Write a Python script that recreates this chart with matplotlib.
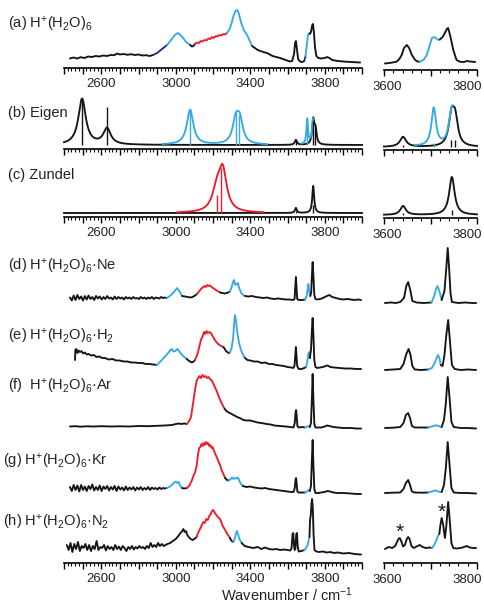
import numpy as np
import matplotlib
matplotlib.use('Agg')
import matplotlib.pyplot as plt
from matplotlib.ticker import FixedLocator, FuncFormatter
from matplotlib.transforms import ScaledTranslation

plt.rcParams['font.family'] = ['Liberation Sans', 'DejaVu Sans']
plt.rcParams['mathtext.fontset'] = 'custom'
plt.rcParams['mathtext.rm'] = 'Liberation Sans'
plt.rcParams['mathtext.it'] = 'Liberation Sans:italic'
plt.rcParams['mathtext.bf'] = 'Liberation Sans:bold'

K, B, R, N = '#151515', '#39a9e6', '#ee1c2b', '#1d2f8c'

# ---------------- panel labels ----------------
labels = ['(a) H$^{+}$(H$_{2}$O)$_{6}$', '(b) Eigen', '(c) Zundel',
          '(d) H$^{+}$(H$_{2}$O)$_{6}$\u00b7Ne', '(e) H$^{+}$(H$_{2}$O)$_{6}$\u00b7H$_{2}$',
          '(f)  H$^{+}$(H$_{2}$O)$_{6}$\u00b7Ar', '(g) H$^{+}$(H$_{2}$O)$_{6}$\u00b7Kr',
          '(h) H$^{+}$(H$_{2}$O)$_{6}$\u00b7N$_{2}$']
left_labels = [2600, 3000, 3400, 3800]
right_labels = [3600, 3800]

# ---------------- (a) experimental, bare cluster ----------------
a_wn = [2432, 2450, 2470, 2490, 2510, 2530, 2550, 2570, 2590, 2610,
        2630, 2650, 2670, 2685, 2700, 2720, 2740, 2760, 2780, 2800,
        2820, 2840, 2860, 2878, 2900, 2920, 2940, 2953, 2975, 2995,
        3012, 3025, 3040, 3055, 3070, 3077, 3087, 3095, 3103, 3115,
        3125, 3135, 3145, 3155, 3165, 3175, 3185, 3195, 3205, 3215,
        3225, 3235, 3245, 3255, 3265, 3275, 3290, 3300, 3310, 3320,
        3329, 3338, 3350, 3365, 3383, 3400, 3410, 3440, 3470, 3490,
        3520, 3560, 3590, 3614, 3625, 3635, 3641, 3645, 3650, 3657,
        3667, 3680, 3690, 3697, 3703, 3710, 3716, 3720, 3726, 3733,
        3737, 3742, 3748, 3755, 3765, 3780, 3800, 3812, 3825, 3840,
        3870, 3900, 3940, 3990]
a_int = [9.5, 10.5, 9.5, 10.8, 10, 11.5, 11, 12, 11.5, 12.5,
         12, 13, 12.8, 14.5, 13.5, 14, 13.2, 13.8, 13, 13.5,
         12.5, 12.8, 12, 13, 15, 18, 21, 23, 28, 33,
         35, 33, 30, 26, 24, 23, 21.5, 22, 24, 25.5,
         25, 27, 26.5, 28, 27.5, 29.5, 29, 31, 30, 32,
         31.5, 33, 32.5, 34, 33.5, 35, 39, 45, 52, 57,
         58, 55, 46, 38, 33, 26, 22, 18, 16, 15,
         12, 10, 8, 6.5, 7, 14, 25, 27, 20, 9,
         6.5, 6, 7, 12, 22, 33, 35, 34, 36, 43,
         44, 35, 20, 12, 10, 9.5, 10, 11, 10, 8,
         7, 6.5, 6, 5.5]
a_seg = [(2432, K), (2878, N), (2953, B), (3077, K), (3103, R), (3275, B),
         (3410, K), (3690, N), (3697, B), (3720, K)]

ar_wn = [3602, 3612, 3627, 3633, 3638, 3643, 3649, 3654, 3660, 3667,
         3672, 3677, 3685, 3692, 3698, 3703, 3708, 3713, 3717, 3720,
         3726, 3731, 3735, 3738, 3743, 3749, 3756, 3763, 3772, 3778,
         3785, 3796]
ar_int = [6.5, 7, 8.3, 11, 15, 22, 25, 22, 15, 10,
          8.5, 8.3, 10, 15, 24, 32, 33, 31.5, 30, 30.5,
          33, 37, 41, 42, 33, 20, 10, 8.3, 8, 9,
          8.5, 8]
ar_seg = [(3602, K), (3677, B), (3720, K)]

# ---------------- (b) Eigen, (c) Zundel: computed sticks ----------------
b_pos = [2497, 2631, 3077, 3322, 3344, 3645, 3706, 3738, 3750]
b_amp = [46, 16, 35, 22, 22, 5, 25, 24, 14]
b_hw = [24, 24, 21, 20, 20, 7, 5, 7, 7]
b_col = [K, K, B, B, B, K, B, K, K]
b_stick = [2497, 2631, 3077, 3325, 3340, 3645, 3706, 3738, 3750]
b_stick_h = [46, 38, 35, 33, 30, 4, 18, 24, 20]

br_pos = [3641, 3707, 3745, 3753]
br_amp = [10, 38, 28, 26]
br_hw = [8, 6, 7, 7]
br_col = [K, B, K, K]
br_stick = [3641, 3707, 3745, 3752]
br_stick_h = [2, 4, 7, 7]

c_pos = [3220, 3252, 3645, 3738]
c_amp = [20, 40, 5, 27]
c_hw = [28, 26, 6, 6]
c_col = [R, R, K, K]
c_stick = [3220, 3245, 3645, 3738]
c_stick_h = [18, 45, 2, 8]

cr_pos = [3641, 3746]
cr_amp = [9, 38]
cr_hw = [7, 7]
cr_col = [K, K]
cr_stick = [3641, 3746]
cr_stick_h = [2, 5]

# ---------------- (d) Ne ----------------
d_wn = [2432, 2442, 2452, 2462, 2472, 2482, 2492, 2502, 2512, 2522,
        2532, 2542, 2552, 2562, 2572, 2582, 2592, 2602, 2612, 2622,
        2632, 2642, 2652, 2662, 2672, 2682, 2692, 2702, 2712, 2722,
        2732, 2742, 2752, 2762, 2772, 2782, 2792, 2802, 2812, 2822,
        2832, 2842, 2852, 2862, 2872, 2882, 2892, 2902, 2912, 2922,
        2932, 2942, 2952,
        2965, 2980, 2995, 3007, 3015, 3025, 3034,
        3050, 3065, 3077, 3090, 3100, 3114,
        3125, 3135, 3145, 3155, 3162, 3170, 3178, 3186, 3195, 3205, 3215, 3228, 3238,
        3250, 3262, 3275, 3291,
        3300, 3308, 3313, 3320, 3328, 3334, 3342, 3352, 3362, 3372,
        3390, 3410, 3430, 3450, 3470, 3490, 3510, 3530, 3550, 3570,
        3590, 3610, 3630, 3638, 3642, 3645, 3648, 3652, 3660, 3680, 3695,
        3703, 3708, 3712, 3716, 3722,
        3727, 3731, 3735, 3739, 3744, 3750, 3760, 3775, 3790, 3800,
        3812, 3825, 3840, 3860, 3880, 3900, 3920, 3940, 3960, 3980, 3995]
d_int = [3.5, 0.5, 5.5, 1, 6, 2, 4.5, 0.5, 5, 1.5,
         5.5, 2, 4, 1, 5, 2.5, 4.5, 1.5, 4, 2,
         5, 2.5, 3.5, 1.5, 4.5, 2, 4, 2.5, 3.5, 1.5,
         4, 2.5, 3.5, 2, 4, 2.5, 3, 2, 4, 2.5,
         3.5, 2, 3.5, 2.5, 4, 2, 3.5, 3, 2.5, 4,
         3, 3.5, 3,
         4.5, 7, 10, 13, 11, 8, 5,
         4.5, 4, 3.5, 4, 5, 7,
         9.5, 12, 13.5, 15, 14, 16, 15, 15.5, 13.5, 12.5, 11, 9.5, 8.5,
         8, 7.5, 8, 9.5,
         14, 19, 21, 16, 17, 18, 12, 8, 6, 5,
         4.5, 5, 4, 3.5, 3, 3.5, 2.5, 2, 2.5, 2,
         1.5, 1.5, 1, 2, 15, 24, 15, 2, 1, 1, 1.5,
         5, 12, 17, 10, 5,
         8, 25, 39, 25, 6, 2, 1.5, 2, 3, 4,
         5, 6, 4, 3, 2, 1.5, 2, 1.5, 1, 1.5, 1]
d_seg = [(2432, K), (2952, B), (3034, K), (3114, R), (3238, K), (3291, B),
         (3372, K), (3695, B), (3722, K)]

# ---------------- (e) H2 ----------------
e_wn = [2459, 2461, 2466, 2472, 2478, 2486, 2494, 2502, 2512, 2522,
        2532, 2545, 2560, 2575, 2590, 2605, 2620, 2640, 2660, 2680,
        2700, 2720, 2740, 2760, 2780, 2800, 2820, 2840, 2860, 2880, 2898,
        2915, 2935, 2955, 2970, 2978, 2988, 2998, 3008, 3014, 3025, 3040, 3059,
        3072, 3086, 3096, 3103,
        3115, 3125, 3135, 3145, 3152, 3158, 3165, 3172, 3180, 3188, 3198, 3210,
        3222, 3235, 3248, 3256,
        3270, 3283, 3291,
        3300, 3308, 3313, 3318, 3323, 3330, 3340, 3352, 3362, 3372,
        3385, 3400, 3420, 3440, 3460, 3480, 3500, 3520, 3540, 3560,
        3580, 3600, 3620, 3632, 3638, 3642, 3645, 3648, 3652, 3660, 3675, 3690, 3700,
        3706, 3712, 3716, 3720,
        3726, 3731, 3735, 3739, 3744, 3750, 3760, 3775, 3790, 3805,
        3815, 3830, 3850, 3880, 3910, 3940, 3970, 3995]
e_int = [10, 20, 21, 17, 19.5, 18, 19, 16.5, 17.5, 15.5,
         16, 14.5, 15, 13, 13.5, 12, 12, 10.5, 11, 9.5,
         9.5, 8.5, 8.5, 7.5, 7.5, 7, 7, 6, 6, 5.5, 5,
         8, 12, 16, 19.5, 21, 18.5, 19, 21, 20, 17, 14, 11,
         9, 7.5, 8.5, 10,
         15, 22, 30, 34, 38, 36, 39, 37, 38, 37, 34, 30,
         27, 25, 23.5, 23,
         19, 17, 17.5,
         22, 32, 45, 55, 50, 38, 27, 19, 15, 12,
         10, 9.5, 8.5, 8.5, 7, 7.5, 6, 6, 5, 4.5,
         4, 3, 2.5, 2, 5, 15, 23, 15, 4, 1, 1, 2, 3,
         8, 16, 18, 12,
         20, 40, 52, 35, 10, 3, 2, 2.5, 3, 4,
         4.5, 3, 2.5, 2, 1.5, 1.5, 1, 1]
e_seg = [(2459, K), (2898, B), (3059, K), (3103, R), (3256, K), (3291, B),
         (3372, K), (3700, B), (3720, K)]

# ---------------- (f) Ar ----------------
f_wn = [2432, 2460, 2490, 2520, 2560, 2600, 2650, 2700, 2750, 2800,
        2850, 2900, 2940, 2980, 3000, 3014, 3030, 3045, 3059,
        3072, 3082, 3094, 3104, 3112, 3120, 3128, 3136, 3144, 3152,
        3160, 3168, 3176, 3184, 3192, 3200, 3210, 3220, 3232, 3243, 3254, 3263,
        3275, 3290, 3310, 3330, 3350, 3363, 3380, 3400, 3420, 3440,
        3460, 3488, 3510, 3530, 3560, 3590, 3615, 3632, 3639, 3643,
        3646, 3649, 3653, 3660, 3680, 3695,
        3705, 3712, 3720,
        3726, 3731, 3735, 3739, 3744, 3750, 3765, 3780, 3800, 3812,
        3825, 3845, 3870, 3900, 3940, 3970, 3995]
f_int = [2.5, 2.8, 2.3, 2.7, 2.5, 2.8, 2.5, 2.7, 2.5, 3,
         2.8, 3.2, 3.5, 4, 5, 5.5, 5, 5.5, 5,
         8, 12, 27, 40, 48, 51, 53, 51, 54, 52,
         53, 51, 52, 50, 49, 46, 42, 38, 32, 27, 23, 20,
         17.5, 16, 14, 12, 10.5, 9, 8.5, 8.5, 7.5, 6.5,
         6, 5, 4.5, 3.5, 3, 2.5, 2, 1.5, 6, 16,
         19, 14, 3, 1.5, 2, 1.5,
         2.5, 3, 2,
         6, 30, 55, 30, 5, 1.5, 1.5, 1.5, 2.5, 3.5,
         3, 2, 1.5, 1, 1, 0.5, 0.5]
f_seg = [(2432, K), (3059, R), (3263, K), (3695, B), (3720, K)]

# ---------------- (g) Kr ----------------
g_wn = [2432, 2442, 2452, 2462, 2472, 2482, 2492, 2502, 2512, 2522,
        2532, 2542, 2552, 2562, 2572, 2582, 2592, 2602, 2612, 2622,
        2632, 2642, 2652, 2662, 2672, 2682, 2692, 2702, 2712, 2722,
        2732, 2742, 2752, 2762, 2772, 2782, 2792, 2802, 2812, 2822,
        2832, 2842, 2852, 2862, 2872, 2882, 2892, 2902, 2912, 2922,
        2932, 2942, 2952,
        2965, 2978, 2990, 3000, 3007, 3015, 3025, 3034,
        3045, 3060,
        3072, 3085, 3095, 3104, 3112, 3120, 3126, 3132, 3138, 3144,
        3150, 3156, 3162, 3168, 3174, 3180, 3186, 3192, 3198, 3204,
        3212, 3220, 3228, 3238, 3246, 3256, 3265,
        3275, 3285,
        3295, 3303, 3310, 3318, 3326, 3334, 3342, 3350, 3360,
        3380, 3400, 3420, 3440, 3460, 3480, 3500, 3520, 3540, 3560,
        3580, 3600, 3620, 3632, 3639, 3643, 3646, 3649, 3653, 3660, 3680, 3695,
        3705, 3712, 3720,
        3726, 3731, 3735, 3739, 3744, 3750, 3765, 3780, 3800, 3815,
        3828, 3845, 3870, 3900, 3940, 3970, 3995]
g_int = [7, 3, 9, 4, 8.5, 2.5, 9, 4, 7.5, 3,
         8, 5, 9.5, 3.5, 7, 4, 8.5, 3, 7.5, 5,
         8, 3.5, 7, 4.5, 8, 3, 7.5, 4.5, 6.5, 3.5,
         7.5, 4, 6.5, 4.5, 7, 3.5, 6.5, 4.5, 7, 4,
         6, 4.5, 7, 4, 6.5, 5, 6, 4.5, 6.5, 5,
         6, 5.5, 6,
         7, 9, 11, 12.5, 11, 12, 8, 6,
         5.5, 6,
         8, 13, 18, 22, 28, 40, 46, 47, 50, 48,
         51, 49, 52, 50, 51, 48, 49, 46, 47, 44,
         40, 37, 33, 29, 24, 20, 16,
         14, 13.5,
         15, 16.5, 15, 16, 15.5, 16.5, 13, 10, 8,
         7, 7.5, 6.5, 6, 5.5, 6, 5, 4.5, 4, 3.5,
         3, 2.5, 2, 2, 6, 14, 16, 11, 2.5, 1.5, 1.5, 1.5,
         2.5, 4, 3,
         8, 35, 54, 30, 5, 1, 1, 1.5, 2, 3,
         2.5, 1.5, 1, 1, 0.5, 0, 0]
g_seg = [(2432, K), (2952, B), (3034, K), (3060, R), (3265, K), (3285, B),
         (3360, K), (3695, B), (3720, K)]

# ---------------- (h) N2 ----------------
h_wn = [2415, 2425, 2435, 2445, 2455, 2465, 2475, 2485, 2495, 2505,
        2515, 2525, 2535, 2545, 2555, 2565, 2575, 2585, 2595, 2605,
        2615, 2625, 2635, 2645, 2655, 2665, 2675, 2685, 2695, 2705,
        2715, 2725, 2735, 2745, 2755, 2765, 2775, 2785, 2795, 2805,
        2815, 2825, 2835, 2845, 2855, 2865, 2875,
        2885, 2895, 2905, 2915, 2925, 2935, 2945, 2955, 2970, 2985,
        3000, 3014, 3025, 3035, 3041, 3048, 3055, 3062, 3070, 3080,
        3090, 3100, 3112,
        3120, 3130, 3140, 3148, 3156, 3164, 3172, 3180, 3188, 3195,
        3202, 3210, 3218, 3226, 3238, 3250, 3262, 3274, 3284, 3291,
        3300, 3309,
        3318, 3324, 3328, 3334, 3342, 3354,
        3370, 3390, 3417, 3440, 3460, 3480, 3500, 3520, 3540, 3560,
        3580, 3600, 3615, 3622, 3627, 3631, 3635, 3638, 3642, 3647,
        3651, 3655, 3660, 3675, 3690,
        3700, 3708, 3714, 3718,
        3721, 3725, 3729, 3732, 3736, 3740, 3745, 3755, 3770, 3790,
        3810, 3830, 3850, 3870, 3900, 3930, 3960, 3995]
h_int = [8, 3, 10, 1, 9, 4, 11, 2, 7, 5,
         9, 3, 8, 2, 7, 4, 12, 3, 6, 5,
         8, 2.5, 7, 4, 6, 3, 8, 4, 6.5, 3,
         7, 5, 2, 6, 4, 7, 3.5, 6, 4.5, 7,
         5, 6, 4, 7, 5, 10, 6,
         8, 6, 10, 7, 9, 7, 8, 9, 10, 12,
         14, 17, 20, 22, 24, 21, 22, 18, 16, 14,
         13, 14, 16,
         20, 24, 28, 31, 30, 34, 33, 37, 39, 42,
         43, 40, 38, 36, 34, 28, 24, 20, 17, 15,
         12, 11,
         15, 20, 22, 19, 14, 10,
         7, 6, 5, 6, 4, 5.5, 4, 3.5, 4, 3,
         3.5, 3, 2.5, 5, 19, 20, 8, 3, 4, 19,
         20, 6, 1.5, 2, 3,
         5, 8, 13, 16,
         33, 38, 50, 54, 45, 18, 3, 1.5, 1, 1.5,
         0.5, 1, 0, 0.5, -0.5, 0, -1, -1.5]
h_seg = [(2415, K), (3112, R), (3291, K), (3309, B), (3354, K), (3690, B), (3718, K)]

# ---------------- right-hand panels (d)-(h) ----------------
dr_wn = [3602, 3615, 3625, 3635, 3643, 3648, 3652, 3656, 3661, 3670,
         3685, 3702, 3708, 3712, 3715, 3719, 3724, 3730, 3734, 3737,
         3740, 3743, 3746, 3760, 3775, 3790, 3798]
dr_int = [0, 0.5, 0, 1, 5, 17, 21, 14, 2, 0.5,
          0, 0.5, 7, 14, 17, 12, 3, 12, 35, 55,
          35, 10, 1, 0, 0.5, 0, 0]
dr_seg = [(3602, K), (3702, B), (3724, K)]

er_wn = [3602, 3620, 3635, 3642, 3648, 3653, 3657, 3661, 3666, 3680,
         3695, 3703, 3709, 3713, 3716, 3719, 3722, 3726, 3730, 3734,
         3738, 3742, 3746, 3752, 3765, 3780, 3798]
er_int = [0, 0.5, 1, 6, 16, 21, 15, 4, 0.5, 0,
          0.5, 2, 7, 12, 15, 12, 5, 4, 15, 35,
          50, 28, 5, 1, 0, 0.5, 0]
er_seg = [(3602, K), (3695, B), (3722, K)]

fr_wn = [3602, 3620, 3635, 3642, 3647, 3652, 3656, 3660, 3666, 3680,
         3695, 3703, 3709, 3715, 3720, 3724, 3729, 3733, 3737, 3741,
         3745, 3750, 3765, 3780, 3798]
fr_int = [0, 0.3, 1, 5, 13, 15, 10, 2, 0.5, 0.5,
          0.5, 1.5, 2.5, 2.5, 1.5, 1, 8, 25, 51, 30,
          6, 1, 0, 0, -0.5]
fr_seg = [(3602, K), (3695, B), (3724, K)]

gr_wn = [3602, 3620, 3635, 3642, 3647, 3652, 3656, 3660, 3666, 3680,
         3695, 3703, 3709, 3714, 3720, 3724, 3729, 3733, 3737, 3741,
         3745, 3750, 3765, 3780, 3798]
gr_int = [0, 0.3, 0.5, 4, 10, 13, 8, 1.5, 0.5, 0.3,
          0.5, 1.5, 2.5, 2, 1, 1, 8, 25, 51, 28,
          5, 0.5, 0, 0, -0.5]
gr_seg = [(3602, K), (3695, B), (3724, K)]

hr_wn = [3602, 3610, 3618, 3624, 3628, 3631, 3634, 3637, 3641, 3645,
         3649, 3652, 3655, 3659, 3664, 3670, 3677, 3683, 3690, 3698,
         3703, 3708, 3713, 3716, 3719, 3721, 3724, 3727, 3731, 3734,
         3738, 3741, 3745, 3749, 3756, 3765, 3772, 3778, 3784, 3792, 3798]
hr_int = [-1, 1, 0, 2, 6, 9, 10, 7, 1.5, 3,
          9, 11, 9, 2, 0, 1.5, 3, 1, 0, 0.5,
          0, 3, 8, 12, 14, 22, 30, 24, 10, 22,
          46, 30, 5, 0, -0.5, 0, 1, 2, 0.5, 0, 0]
hr_seg = [(3602, K), (3703, B), (3719, K)]
star_wn = [3634, 3724]

# vertical stacking offsets (px units) for traces (d)-(h)
left_off = [262, 193, 134, 69, 10]
right_off = [260, 193, 135, 70, 15]

# ======================= drawing =======================
W, H = 485, 603
fig = plt.figure(figsize=(W / 100, H / 100), dpi=100)
LW = 1.35
LX0, LX1, RX0, RX1 = 64, 362, 384, 477
TXT = '#222222'


def add_ax(x0, x1, ybot, ytop, xlim, labels_on, right):
    ax = fig.add_axes([x0 / W, 1 - ybot / H, (x1 - x0) / W, (ybot - ytop) / H])
    ax.set_ylim(0, ybot - ytop)
    ax.set_xlim(*xlim)
    ax.patch.set_alpha(0)
    for s in ['top', 'left', 'right']:
        ax.spines[s].set_visible(False)
    ax.spines['bottom'].set_linewidth(1.2)
    ax.set_yticks([])
    if right:
        major = [3600, 3700, 3800]
    else:
        major = list(range(2400, 4001, 100))
    ax.xaxis.set_major_locator(FixedLocator(major))
    ax.xaxis.set_minor_locator(FixedLocator(list(range(int(xlim[0]), int(xlim[1]) + 1, 20))))
    ax.xaxis.set_major_formatter(FuncFormatter(
        lambda v, p: f'{int(round(v))}' if int(round(v)) in left_labels else ''))
    ax.tick_params(axis='x', which='major', direction='out', length=4, width=1.0,
                   labelsize=9.5, pad=3.5, labelbottom=(labels_on and not right),
                   labelcolor=TXT)
    ax.tick_params(axis='x', which='minor', direction='out', length=2.2, width=0.8)
    if right and labels_on:
        tr = ax.get_xaxis_transform()
        ax.text(right_labels[0], 0, str(right_labels[0]), fontsize=9.5, color=TXT,
                ha='center', va='center',
                transform=tr + ScaledTranslation(3 / 100, -17 / 100, fig.dpi_scale_trans))
        ax.text(right_labels[1], 0, str(right_labels[1]), fontsize=9.5, color=TXT,
                ha='right', va='center',
                transform=tr + ScaledTranslation(5 / 100, -17 / 100, fig.dpi_scale_trans))
    return ax


def draw(ax, wn, inten, segs, off):
    assert len(wn) == len(inten), (len(wn), len(inten))
    wn = np.asarray(wn, float)
    y = np.asarray(inten, float) + off
    starts = [s for s, _ in segs]
    ends = starts[1:] + [wn[-1]]
    for (s, c), e in zip(segs, ends):
        m = (wn >= s) & (wn <= e)
        ax.plot(wn[m], y[m], color=c, lw=LW, solid_joinstyle='round',
                solid_capstyle='round', clip_on=False)


def lor(x, p, a, w):
    return a / (1 + ((x - p) / w) ** 2)


def draw_calc(ax, xr, pos, amp, hw, col, spos, sh, off):
    x = np.linspace(xr[0], xr[1], 4001)
    comps = {}
    for p, a, w, c in zip(pos, amp, hw, col):
        comps.setdefault(c, np.zeros_like(x))
        comps[c] += lor(x, p, a, w)
    black = comps.get(K, np.zeros_like(x))
    ax.plot(x, black + off, color=K, lw=LW, clip_on=False)
    for c, comp in comps.items():
        if c == K:
            continue
        yy = np.where(comp > 0.8, comp + black + off, np.nan)
        ax.plot(x, yy, color=c, lw=LW, clip_on=False)
    for p, h in zip(spos, sh):
        c = col[int(np.argmin([abs(p - q) for q in pos]))]
        ax.vlines(p, off, off + h, color=c, lw=1.0)


LXL, RXL = (2400, 4000), (3600, 3800)

# (a)
ax = add_ax(LX0, LX1, 68, 0, LXL, True, False)
draw(ax, a_wn, a_int, a_seg, 0)
ax = add_ax(RX0, RX1, 70, 0, RXL, True, True)
draw(ax, ar_wn, ar_int, ar_seg, 0)

# (b)
ax = add_ax(LX0, LX1, 149, 80, LXL, False, False)
draw_calc(ax, LXL, b_pos, b_amp, b_hw, b_col, b_stick, b_stick_h, 4)
ax = add_ax(RX0, RX1, 150, 80, RXL, False, True)
draw_calc(ax, RXL, br_pos, br_amp, br_hw, br_col, br_stick, br_stick_h, 3)

# (c)
ax = add_ax(LX0, LX1, 217, 150, LXL, True, False)
draw_calc(ax, LXL, c_pos, c_amp, c_hw, c_col, c_stick, c_stick_h, 4)
ax = add_ax(RX0, RX1, 218, 150, RXL, True, True)
draw_calc(ax, RXL, cr_pos, cr_amp, cr_hw, cr_col, cr_stick, cr_stick_h, 3)

# (d)-(h)
axL = add_ax(LX0, LX1, 563, 240, LXL, True, False)
for (wn, it, sg), off in zip([(d_wn, d_int, d_seg), (e_wn, e_int, e_seg), (f_wn, f_int, f_seg),
                              (g_wn, g_int, g_seg), (h_wn, h_int, h_seg)], left_off):
    draw(axL, wn, it, sg, off)
axR = add_ax(RX0, RX1, 563, 240, RXL, True, True)
for (wn, it, sg), off in zip([(dr_wn, dr_int, dr_seg), (er_wn, er_int, er_seg), (fr_wn, fr_int, fr_seg),
                              (gr_wn, gr_int, gr_seg), (hr_wn, hr_int, hr_seg)], right_off):
    draw(axR, wn, it, sg, off)
for sw, dy in zip(star_wn, [16, 36]):
    axR.text(sw, right_off[4] + dy, '*', ha='center', va='center', fontsize=15, color=K)

# labels
lab_x = [8, 8, 8, 8, 8, 8, 3, 3]
lab_y = [24, 113, 175, 266, 337, 387, 462, 523]
for s, x, y in zip(labels, lab_x, lab_y):
    fig.text(x / W, 1 - y / H, s, ha='left', va='center', fontsize=10.5, color=TXT)

fig.text(287 / W, 1 - 595 / H, 'Wavenumber / cm$^{\\mathregular{-1}}$', ha='center', va='center',
         fontsize=10.5, color=TXT)

fig.savefig('out.png', dpi=100)
